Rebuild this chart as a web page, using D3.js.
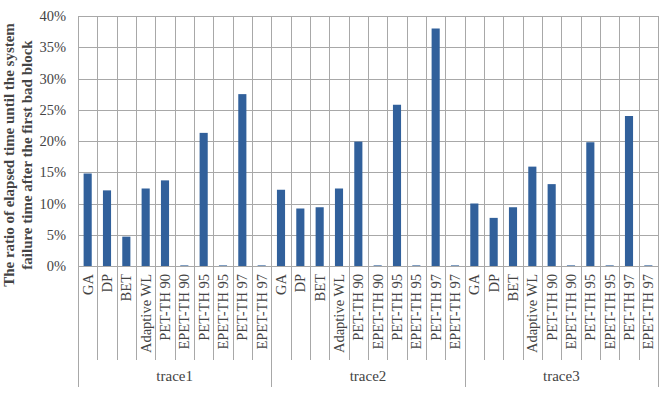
<!DOCTYPE html>
<html>
<head>
<meta charset="utf-8">
<script src="https://cdn.jsdelivr.net/npm/d3@7"></script>
<style>
  body { margin: 0; background: #fff; }
  text { font-family: "Liberation Serif", "DejaVu Serif", serif; fill: #444; }
</style>
</head>
<body>
<div id="container"></div>
<script>
/* DATA */
const traces = ["trace1", "trace2", "trace3"];
const methods = ["GA", "DP", "BET", "Adaptive WL", "PET-TH 90", "EPET-TH 90",
  "PET-TH 95", "EPET-TH 95", "PET-TH 97", "EPET-TH 97"];
const trace1Values = [14.8, 12.1, 4.7, 12.4, 13.7, 0.1, 21.3, 0.1, 27.5, 0.1];
const trace2Values = [12.2, 9.2, 9.4, 12.4, 19.9, 0.1, 25.8, 0.1, 38.0, 0.1];
const trace3Values = [10.0, 7.7, 9.4, 15.9, 13.1, 0.1, 19.8, 0.1, 24.0, 0.1];
const yTicks = [0, 5, 10, 15, 20, 25, 30, 35, 40];

/* CONSTANTS AND GLOBALS */
const width = 671;
const height = 393;
const margin = { top: 16, bottom: 127, left: 78, right: 13 };

const seriesByTrace = [trace1Values, trace2Values, trace3Values];
const data = [];
traces.forEach((t, i) => {
  methods.forEach((m, j) => {
    data.push({ key: t + "|" + m, trace: t, method: m, value: seriesByTrace[i][j] });
  });
});

/* SCALES */
const xScale = d3.scaleBand()
  .domain(data.map(d => d.key))
  .range([margin.left, width - margin.right])
  .paddingInner(0)
  .paddingOuter(0);

const yScale = d3.scaleLinear()
  .domain([0, 40])
  .range([height - margin.bottom, margin.top]);

/* HTML ELEMENTS */
const svg = d3.select("#container")
  .append("svg")
  .attr("width", width)
  .attr("height", height);

const gridColor = "#a8a8a8";
const x0 = margin.left, x1 = width - margin.right;
const y0 = yScale(0);

// horizontal grid
svg.append("g")
  .selectAll("line")
  .data(yTicks)
  .join("line")
  .attr("x1", x0)
  .attr("x2", x1)
  .attr("y1", d => Math.round(yScale(d)) + 0.5)
  .attr("y2", d => Math.round(yScale(d)) + 0.5)
  .attr("stroke", gridColor)
  .attr("stroke-width", 1);

// vertical grid at each category boundary
const bounds = data.map(d => xScale(d.key)).concat([x1]);
svg.append("g")
  .selectAll("line")
  .data(bounds)
  .join("line")
  .attr("x1", d => Math.round(d) + 0.5)
  .attr("x2", d => Math.round(d) + 0.5)
  .attr("y1", margin.top)
  .attr("y2", y0)
  .attr("stroke", gridColor)
  .attr("stroke-width", 1);

// bars
const barW = xScale.bandwidth() * 0.42;
svg.append("g")
  .selectAll("rect")
  .data(data)
  .join("rect")
  .attr("x", d => xScale(d.key) + (xScale.bandwidth() - barW) / 2)
  .attr("y", d => yScale(d.value))
  .attr("width", barW)
  .attr("height", d => y0 - yScale(d.value))
  .attr("fill", "#31609b");

// y axis
const yAxis = d3.axisLeft(yScale)
  .tickValues(yTicks)
  .tickFormat(d => d + "%")
  .tickSize(0)
  .tickPadding(12);

svg.append("g")
  .attr("transform", `translate(${x0},0)`)
  .call(yAxis)
  .call(g => g.select(".domain").remove())
  .call(g => g.selectAll("text")
    .style("font-family", "Liberation Serif, serif")
    .style("font-size", "14.5px")
    .attr("fill", "#555"));

// category separators below axis
const groupEdges = [x0].concat(traces.map((t, i) => xScale(t + "|" + methods[methods.length - 1]) + xScale.bandwidth()));
svg.append("g")
  .selectAll("line")
  .data(bounds)
  .join("line")
  .attr("x1", d => Math.round(d) + 0.5)
  .attr("x2", d => Math.round(d) + 0.5)
  .attr("y1", y0)
  .attr("y2", d => groupEdges.some(e => Math.abs(e - d) < 1) ? 387 : 360)
  .attr("stroke", gridColor)
  .attr("stroke-width", 1);

// category labels
svg.append("g")
  .selectAll("text")
  .data(data)
  .join("text")
  .attr("transform", d => `translate(${xScale(d.key) + xScale.bandwidth() / 2 + 5},${y0 + 8}) rotate(-90)`)
  .attr("text-anchor", "end")
  .style("font-size", "14.5px")
  .attr("fill", "#555")
  .text(d => d.method);

// group labels
svg.append("g")
  .selectAll("text")
  .data(traces)
  .join("text")
  .attr("x", (t, i) => (groupEdges[i] + groupEdges[i + 1]) / 2)
  .attr("y", 381)
  .attr("text-anchor", "middle")
  .style("font-size", "15px")
  .attr("fill", "#555")
  .text(t => t);

// y axis title
const title = svg.append("text")
  .attr("transform", `translate(14,155) rotate(-90)`)
  .attr("text-anchor", "middle")
  .style("font-size", "15px")
  .style("font-weight", "bold")
  .attr("fill", "#333");
title.append("tspan").attr("x", 0).attr("dy", 0).text("The ratio of elapsed time until the system");
title.append("tspan").attr("x", 0).attr("dy", 18).text("failure time after the first bad block");
</script>
</body>
</html>
